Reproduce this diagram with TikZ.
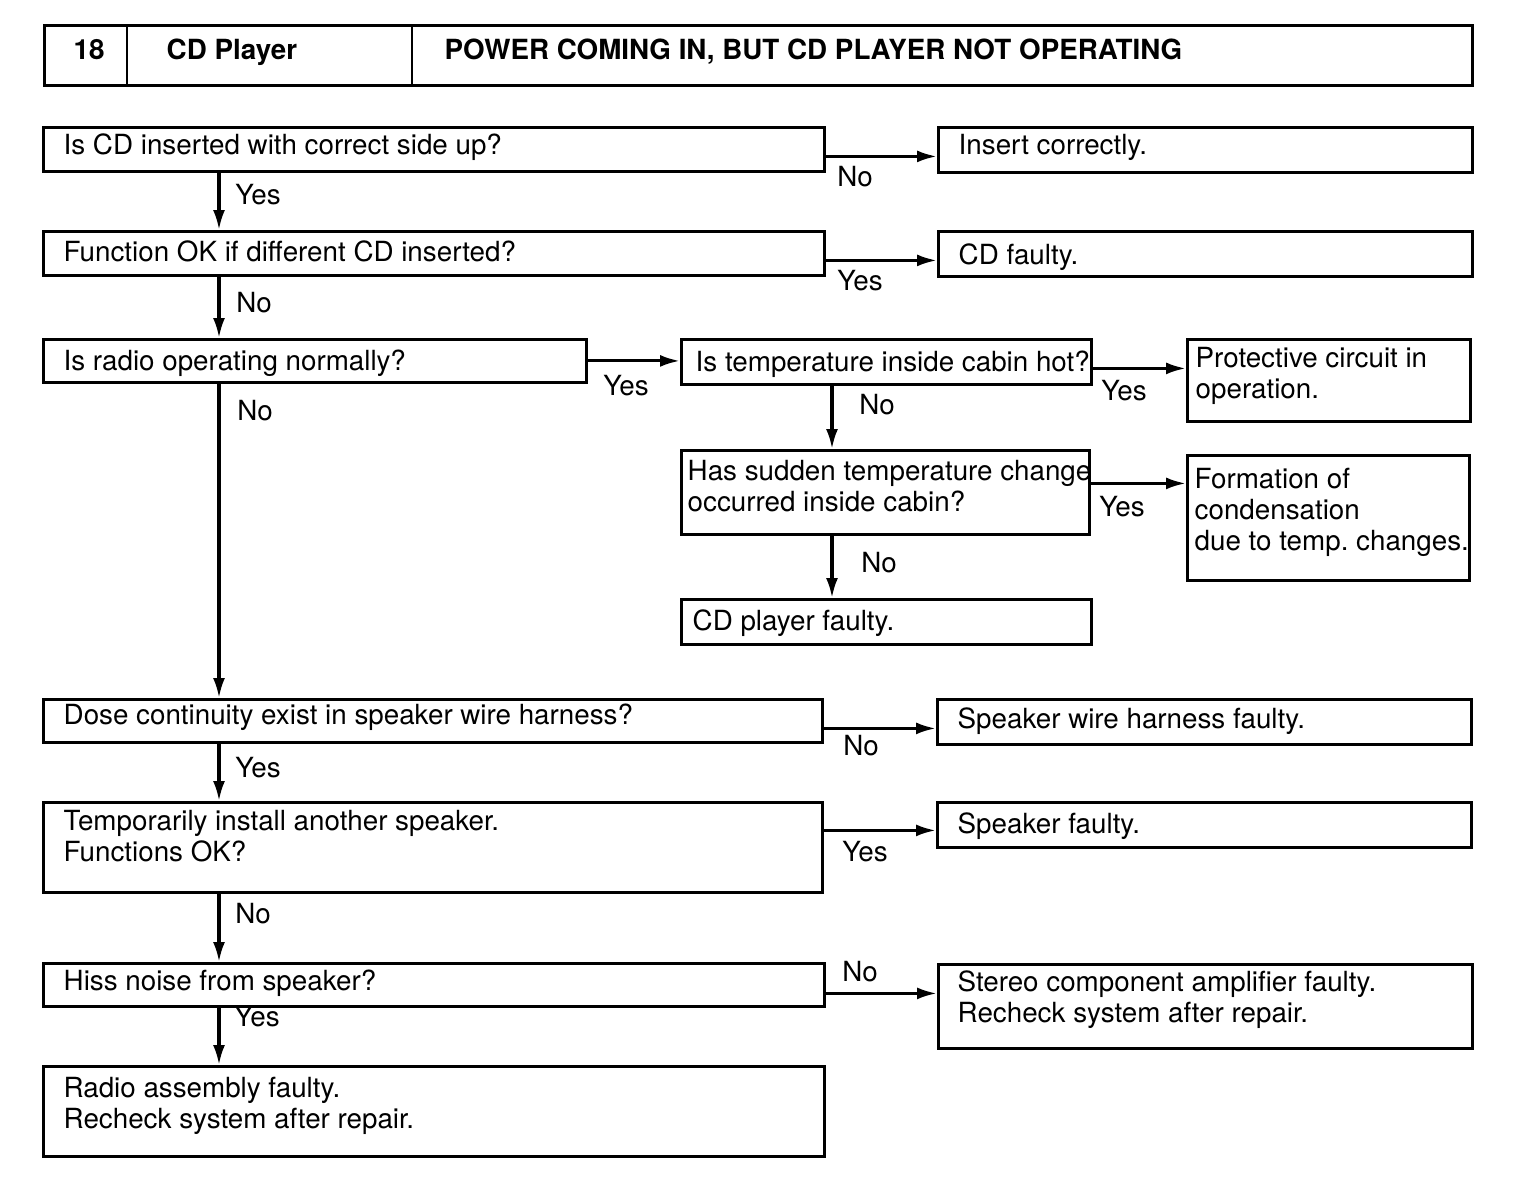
\documentclass[tikz,border=0pt]{standalone}
\usepackage{fontspec}
\setmainfont{TeX Gyre Heros}
\usetikzlibrary{arrows.meta}

\tikzset{
  box/.style={draw, line width=0.8pt, anchor=north west, inner sep=0pt},
  txt/.style={anchor=base west, align=left, inner sep=0pt,
    font=\fontsize{7.9}{8.8}\selectfont},
  lbl/.style={inner sep=0pt, font=\fontsize{7.9}{8.8}\selectfont},
  arr/.style={line width=0.9pt, -{Latex[length=2mm,width=1.2mm]}}
}

\begin{document}
\begin{tikzpicture}
  \useasboundingbox (0,0) rectangle (15.36,-11.98);

  % header
  \node[box, minimum width=14.28cm, minimum height=0.60cm] (hd) at (0.43,-0.24) {};
  \draw[line width=0.8pt] ([xshift=0.84cm]hd.north west) -- ([xshift=0.84cm]hd.south west);
  \draw[line width=0.8pt] ([xshift=3.69cm]hd.north west) -- ([xshift=3.69cm]hd.south west);
  \node[txt, font=\fontsize{7.9}{8.8}\selectfont\bfseries] (hdn) at ([shift={(0.30,-0.35)}]hd.north west) {18};
  \node[txt, font=\fontsize{7.9}{8.8}\selectfont\bfseries] (hds) at ([shift={(1.23,-0.35)}]hd.north west) {CD Player};
  \node[txt, font=\fontsize{7.9}{8.8}\selectfont\bfseries] (hdt) at ([shift={(4.01,-0.35)}]hd.north west) {POWER COMING IN, BUT CD PLAYER NOT OPERATING};

  % left column
  \node[box, minimum width=7.81cm, minimum height=0.44cm] (b1) at (0.42,-1.26) {};
  \node[txt] (b1t) at ([shift={(0.21,-0.28)}]b1.north west) {Is CD inserted with correct side up?};
  \node[box, minimum width=7.81cm, minimum height=0.44cm] (b2) at (0.42,-2.30) {};
  \node[txt] (b2t) at ([shift={(0.21,-0.31)}]b2.north west) {Function OK if different CD inserted?};
  \node[box, minimum width=5.43cm, minimum height=0.43cm] (b3) at (0.42,-3.38) {};
  \node[txt] (b3t) at ([shift={(0.21,-0.32)}]b3.north west) {Is radio operating normally?};
  \node[box, minimum width=7.79cm, minimum height=0.43cm] (b4) at (0.42,-6.98) {};
  \node[txt] (b4t) at ([shift={(0.21,-0.26)}]b4.north west) {Dose continuity exist in speaker wire harness?};
  \node[box, minimum width=7.79cm, minimum height=0.90cm] (b5) at (0.42,-8.01) {};
  \node[txt] (b5t) at ([shift={(0.21,-0.60)}]b5.north west) {Temporarily install another speaker.\\Functions OK?};
  \node[box, minimum width=7.81cm, minimum height=0.43cm] (b6) at (0.42,-9.62) {};
  \node[txt] (b6t) at ([shift={(0.21,-0.28)}]b6.north west) {Hiss noise from speaker?};
  \node[box, minimum width=7.81cm, minimum height=0.90cm] (b7) at (0.42,-10.65) {};
  \node[txt] (b7t) at ([shift={(0.21,-0.63)}]b7.north west) {Radio assembly faulty.\\Recheck system after repair.};

  % right column
  \node[box, minimum width=5.34cm, minimum height=0.45cm] (r1) at (9.37,-1.26) {};
  \node[txt] (r1t) at ([shift={(0.21,-0.28)}]r1.north west) {Insert correctly.};
  \node[box, minimum width=5.34cm, minimum height=0.45cm] (r2) at (9.37,-2.30) {};
  \node[txt] (r2t) at ([shift={(0.21,-0.34)}]r2.north west) {CD faulty.};
  \node[box, minimum width=5.34cm, minimum height=0.45cm] (r4) at (9.36,-6.98) {};
  \node[txt] (r4t) at ([shift={(0.21,-0.30)}]r4.north west) {Speaker wire harness faulty.};
  \node[box, minimum width=5.34cm, minimum height=0.45cm] (r5) at (9.36,-8.01) {};
  \node[txt] (r5t) at ([shift={(0.21,-0.32)}]r5.north west) {Speaker faulty.};
  \node[box, minimum width=5.34cm, minimum height=0.84cm] (r6) at (9.37,-9.63) {};
  \node[txt] (r6t) at ([shift={(0.20,-0.59)}]r6.north west) {Stereo component amplifier faulty.\\Recheck system after repair.};

  % temperature branch
  \node[box, minimum width=4.10cm, minimum height=0.45cm] (t1) at (6.80,-3.38) {};
  \node[txt] (t1t) at ([shift={(0.15,-0.33)}]t1.north west) {Is temperature inside cabin hot?};
  \node[box, minimum width=4.08cm, minimum height=0.84cm] (t2) at (6.80,-4.49) {};
  \node[txt] (t2t) at ([shift={(0.07,-0.62)}]t2.north west) {Has sudden temperature change\\occurred inside cabin?};
  \node[box, minimum width=4.10cm, minimum height=0.45cm] (t3) at (6.80,-5.98) {};
  \node[txt] (t3t) at ([shift={(0.12,-0.32)}]t3.north west) {CD player faulty.};
  \node[box, minimum width=2.83cm, minimum height=0.82cm] (p1) at (11.86,-3.38) {};
  \node[txt] (p1t) at ([shift={(0.09,-0.60)}]p1.north west) {Protective circuit in\\operation.};
  \node[box, minimum width=2.82cm, minimum height=1.25cm] (p2) at (11.86,-4.54) {};
  \node[txt] (p2t) at ([shift={(0.08,-0.96)}]p2.north west) {Formation of\\condensation\\due to temp.\ changes.};

  % vertical connectors
  \draw[arr] ([xshift=1.77cm]b1.south west) -- ([xshift=1.77cm]b2.north west);
  \draw[arr] ([xshift=1.77cm]b2.south west) -- ([xshift=1.77cm]b3.north west);
  \draw[arr] ([xshift=1.77cm]b3.south west) -- ([xshift=1.77cm]b4.north west);
  \draw[arr] ([xshift=1.77cm]b4.south west) -- ([xshift=1.77cm]b5.north west);
  \draw[arr] ([xshift=1.77cm]b5.south west) -- ([xshift=1.77cm]b6.north west);
  \draw[arr] ([xshift=1.77cm]b6.south west) -- ([xshift=1.77cm]b7.north west);
  \draw[arr] ([xshift=1.52cm]t1.south west) -- ([xshift=1.52cm]t2.north west);
  \draw[arr] ([xshift=1.52cm]t2.south west) -- ([xshift=1.52cm]t3.north west);

  % horizontal connectors
  \draw[arr] ([yshift=-0.07cm]b1.east) -- ([yshift=-0.07cm]b1.east -| r1.west);
  \draw[arr] ([yshift=-0.07cm]b2.east) -- ([yshift=-0.07cm]b2.east -| r2.west);
  \draw[arr] (b3.east) -- (b3.east -| t1.west);
  \draw[arr] ([yshift=-0.065cm]t1.east) -- ([yshift=-0.065cm]t1.east -| p1.west);
  \draw[arr] ([yshift=0.09cm]t2.east) -- ([yshift=0.09cm]t2.east -| p2.west);
  \draw[arr] ([yshift=-0.075cm]b4.east) -- ([yshift=-0.075cm]b4.east -| r4.west);
  \draw[arr] ([yshift=0.17cm]b5.east) -- ([yshift=0.17cm]b5.east -| r5.west);
  \draw[arr] ([yshift=-0.085cm]b6.east) -- ([yshift=-0.085cm]b6.east -| r6.west);

  % branch labels
  \node[lbl] (l1) at (8.55,-1.77) {No};
  \node[lbl] (l2) at (2.58,-1.95) {Yes};
  \node[lbl] (l3) at (8.60,-2.81) {Yes};
  \node[lbl] (l4) at (2.54,-3.03) {No};
  \node[lbl] (l5) at (6.26,-3.86) {Yes};
  \node[lbl] (l6) at (2.55,-4.11) {No};
  \node[lbl] (l7) at (8.77,-4.05) {No};
  \node[lbl] (l8) at (11.24,-3.91) {Yes};
  \node[lbl] (l9) at (11.22,-5.07) {Yes};
  \node[lbl] (l10) at (8.79,-5.63) {No};
  \node[lbl] (l11) at (8.61,-7.46) {No};
  \node[lbl] (l12) at (2.58,-7.68) {Yes};
  \node[lbl] (l13) at (8.65,-8.52) {Yes};
  \node[lbl] (l14) at (2.53,-9.14) {No};
  \node[lbl] (l15) at (8.60,-9.72) {No};
  \node[lbl] (l16) at (2.57,-10.17) {Yes};

\end{tikzpicture}
\end{document}
